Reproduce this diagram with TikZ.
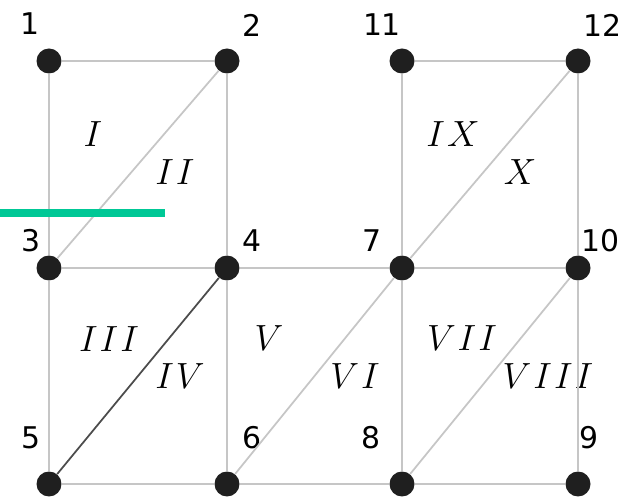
\documentclass[tikz,border=0pt]{standalone}
\usepackage{fontspec}
\newfontfamily\numfont{DejaVu Sans}
\definecolor{marker}{RGB}{0,200,150}

\begin{document}
\begin{tikzpicture}[
    x=0.02cm, y=-0.02cm,
    dot/.style={circle, fill=black!88, inner sep=0pt, minimum size=0.5cm},
    edge/.style={draw=gray!45, line width=1pt},
    darkedge/.style={draw=black!70, line width=1pt},
    num/.style={font=\numfont\fontsize{17}{17}\selectfont, inner sep=0pt},
    region/.style={font=\fontsize{20}{20}\selectfont, inner sep=0pt}
]
\useasboundingbox (0,0) rectangle (625,499);

% grid points
\node[dot] (n1)  at (49,61)   {};
\node[dot] (n2)  at (227,61)  {};
\node[dot] (n11) at (402,61)  {};
\node[dot] (n12) at (578,61)  {};
\node[dot] (n3)  at (49,268)  {};
\node[dot] (n4)  at (227,268) {};
\node[dot] (n7)  at (402,268) {};
\node[dot] (n10) at (578,268) {};
\node[dot] (n5)  at (49,484)  {};
\node[dot] (n6)  at (227,484) {};
\node[dot] (n8)  at (402,484) {};
\node[dot] (n9)  at (578,484) {};

% point numbers
\node[num] (l1)  at (30,24)   {1};
\node[num] (l2)  at (252,25)  {2};
\node[num] (l11) at (382,25)  {11};
\node[num] (l12) at (602,25)  {12};
\node[num] (l3)  at (31,241)  {3};
\node[num] (l4)  at (252,241) {4};
\node[num] (l7)  at (372,241) {7};
\node[num] (l10) at (600,241) {10};
\node[num] (l5)  at (31,438)  {5};
\node[num] (l6)  at (252,438) {6};
\node[num] (l8)  at (371,438) {8};
\node[num] (l9)  at (589,438) {9};

% element numbers
\node[region] (r1)  at (93,134)  {$I$};
\node[region] (r2)  at (175,172) {$I\mkern1mu I$};
\node[region] (r9)  at (453,134) {$I\mkern1mu X$};
\node[region] (r10) at (520,172) {$X$};
\node[region] (r3)  at (109,339) {$I\mkern1mu I\mkern1mu I$};
\node[region] (r4)  at (180,376) {$I\mkern1mu V$};
\node[region] (r5)  at (269,338) {$V$};
\node[region] (r6)  at (355,376) {$V\mkern1mu I$};
\node[region] (r7)  at (462,338) {$V\mkern1mu I\mkern1mu I$};
\node[region] (r8)  at (548,376) {$V\mkern1mu I\mkern1mu I\mkern1mu I$};

% mesh edges
\foreach \a/\b in {n1/n2, n11/n12, n3/n4, n4/n7, n7/n10, n5/n6, n6/n8, n8/n9,
                   n1/n3, n3/n5, n2/n4, n4/n6, n11/n7, n7/n8, n12/n10, n10/n9,
                   n3/n2, n6/n7, n7/n12, n8/n10}
    \draw[edge] (\a) -- (\b);
\draw[darkedge] (n5) -- (n4);

% marker bar
\fill[marker] (0,209) rectangle (165,217);
\end{tikzpicture}
\end{document}
